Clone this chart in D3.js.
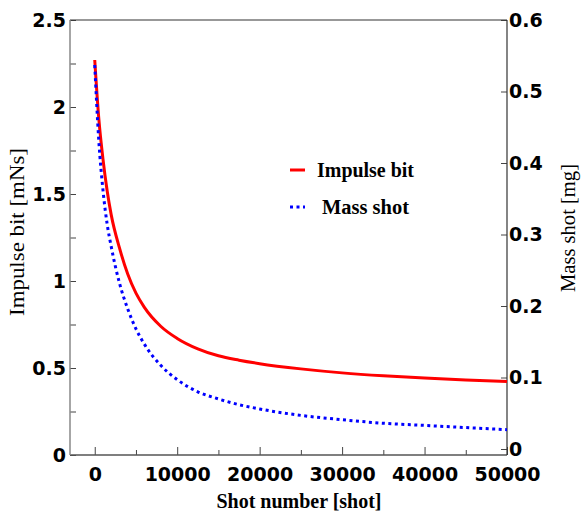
<!DOCTYPE html>
<html>
<head>
<meta charset="utf-8">
<script src="https://cdn.jsdelivr.net/npm/d3@7"></script>
<style>
  body { margin: 0; background: #fff; }
  .tick text { font-family: "DejaVu Sans", sans-serif; font-weight: bold; font-size: 19px; fill: #000; }
  .title { font-family: "Liberation Serif", "Times New Roman", serif; fill: #000; }
</style>
</head>
<body>
<svg id="chart" width="584" height="517"></svg>
<script>
// shot numbers and the two measured series
const shots = [0, 500, 1000, 1500, 2000, 3000, 4000, 5000, 6000, 8000, 10000,
  12500, 15000, 17500, 20000, 25000, 30000, 35000, 40000, 45000, 50000];
const impulseBit = [2.27, 1.93, 1.70, 1.52, 1.38, 1.19, 1.04, 0.93, 0.85, 0.74, 0.67,
  0.61, 0.57, 0.545, 0.525, 0.495, 0.472, 0.455, 0.442, 0.431, 0.422];
const massShot = [0.537, 0.43, 0.362, 0.315, 0.283, 0.232, 0.196, 0.168, 0.147, 0.117, 0.097,
  0.080, 0.070, 0.062, 0.056, 0.047, 0.041, 0.036, 0.033, 0.030, 0.027];

const xTicks = [0, 10000, 20000, 30000, 40000, 50000];
const xMinor = [5000, 15000, 25000, 35000, 45000];
const leftTicks = [0, 0.5, 1, 1.5, 2, 2.5];
const leftMinor = [0.25, 0.75, 1.25, 1.75, 2.25];
const rightTicks = [0, 0.1, 0.2, 0.3, 0.4, 0.5, 0.6];

const legendItems = [
  { label: "Impulse bit", color: "#ff0000", dash: null },
  { label: "Mass shot", color: "#0000ff", dash: "3,3.5" }
];

const svg = d3.select("#chart");

// plot box
const LEFT = 70, RIGHT = 507, TOP = 20, BOTTOM = 455;

const x = d3.scaleLinear().domain([-3000, 50000]).range([LEFT, RIGHT]);
const yL = d3.scaleLinear().domain([0, 2.5]).range([BOTTOM, TOP]);
// right axis zero sits a bit above the frame bottom in the original
const yR = d3.scaleLinear().domain([0, 0.6]).range([449, TOP]);

// axes (inward ticks)
svg.append("g")
  .attr("transform", `translate(0,${BOTTOM})`)
  .call(d3.axisBottom(x).tickValues(xTicks).tickSize(-8).tickSizeOuter(0)
    .tickPadding(13).tickFormat(d3.format("d")))
  .call(g => g.select(".domain").remove())
  .call(g => g.selectAll(".tick line").attr("stroke", "#444"));

svg.append("g")
  .attr("transform", `translate(0,${BOTTOM})`)
  .call(d3.axisBottom(x).tickValues(xMinor).tickSize(-5).tickSizeOuter(0).tickFormat(""))
  .call(g => g.select(".domain").remove())
  .call(g => g.selectAll(".tick line").attr("stroke", "#444"));

svg.append("g")
  .attr("transform", `translate(${LEFT},0)`)
  .call(d3.axisLeft(yL).tickValues(leftTicks).tickSize(-6).tickSizeOuter(0)
    .tickPadding(4).tickFormat(d3.format("")))
  .call(g => g.select(".domain").remove())
  .call(g => g.selectAll(".tick line").attr("stroke", "#444"));

svg.append("g")
  .attr("transform", `translate(${LEFT},0)`)
  .call(d3.axisLeft(yL).tickValues(leftMinor).tickSize(-6).tickSizeOuter(0).tickFormat(""))
  .call(g => g.select(".domain").remove())
  .call(g => g.selectAll(".tick line").attr("stroke", "#444"));

svg.append("g")
  .attr("transform", `translate(${RIGHT},0)`)
  .call(d3.axisRight(yR).tickValues(rightTicks).tickSize(-6).tickSizeOuter(0)
    .tickPadding(2).tickFormat(d3.format("")))
  .call(g => g.select(".domain").remove())
  .call(g => g.selectAll(".tick line").attr("stroke", "#444"));

// frame
svg.append("line").attr("x1", LEFT).attr("x2", RIGHT).attr("y1", TOP).attr("y2", TOP)
  .attr("stroke", "#333").attr("stroke-width", 1.2);
svg.append("line").attr("x1", LEFT).attr("x2", RIGHT).attr("y1", BOTTOM).attr("y2", BOTTOM)
  .attr("stroke", "#555").attr("stroke-width", 1.5);
svg.append("line").attr("x1", LEFT).attr("x2", LEFT).attr("y1", TOP).attr("y2", BOTTOM)
  .attr("stroke", "#888").attr("stroke-width", 1.5);
svg.append("line").attr("x1", RIGHT).attr("x2", RIGHT).attr("y1", TOP).attr("y2", BOTTOM)
  .attr("stroke", "#333").attr("stroke-width", 1.2);

// curves
const lineL = d3.line().x((d, i) => x(shots[i])).y(d => yL(d)).curve(d3.curveMonotoneX);
const lineR = d3.line().x((d, i) => x(shots[i])).y(d => yR(d)).curve(d3.curveMonotoneX);

svg.append("path").datum(impulseBit)
  .attr("d", lineL).attr("fill", "none")
  .attr("stroke", legendItems[0].color).attr("stroke-width", 3);

svg.append("path").datum(massShot)
  .attr("d", lineR).attr("fill", "none")
  .attr("stroke", legendItems[1].color).attr("stroke-width", 3)
  .attr("stroke-dasharray", legendItems[1].dash);

// legend
const legend = svg.append("g").attr("transform", "translate(290,170)");
legendItems.forEach((d, i) => {
  const row = legend.append("g").attr("transform", `translate(0,${i * 37})`);
  row.append("line").attr("x1", 0).attr("x2", 15).attr("y1", 0).attr("y2", 0)
    .attr("stroke", d.color).attr("stroke-width", 3)
    .attr("stroke-dasharray", d.dash);
  row.append("text").attr("class", "title")
    .attr("x", i === 0 ? 27 : 32).attr("y", 7)
    .style("font-size", "20px").style("font-weight", "bold")
    .attr("textLength", i === 0 ? 97 : 87).attr("lengthAdjust", "spacingAndGlyphs")
    .text(d.label);
});

// axis titles
svg.append("text").attr("class", "title")
  .attr("transform", "translate(24,232) rotate(-90)")
  .attr("text-anchor", "middle")
  .style("font-size", "20px")
  .attr("textLength", 168).attr("lengthAdjust", "spacingAndGlyphs")
  .text("Impulse bit [mNs]");

svg.append("text").attr("class", "title")
  .attr("transform", "translate(575,228) rotate(-90)")
  .attr("text-anchor", "middle")
  .style("font-size", "20px")
  .attr("textLength", 128).attr("lengthAdjust", "spacingAndGlyphs")
  .text("Mass shot [mg]");

svg.append("text").attr("class", "title")
  .attr("x", 299).attr("y", 508)
  .attr("text-anchor", "middle")
  .style("font-size", "20px").style("font-weight", "bold")
  .attr("textLength", 165).attr("lengthAdjust", "spacingAndGlyphs")
  .text("Shot number [shot]");
</script>
</body>
</html>
